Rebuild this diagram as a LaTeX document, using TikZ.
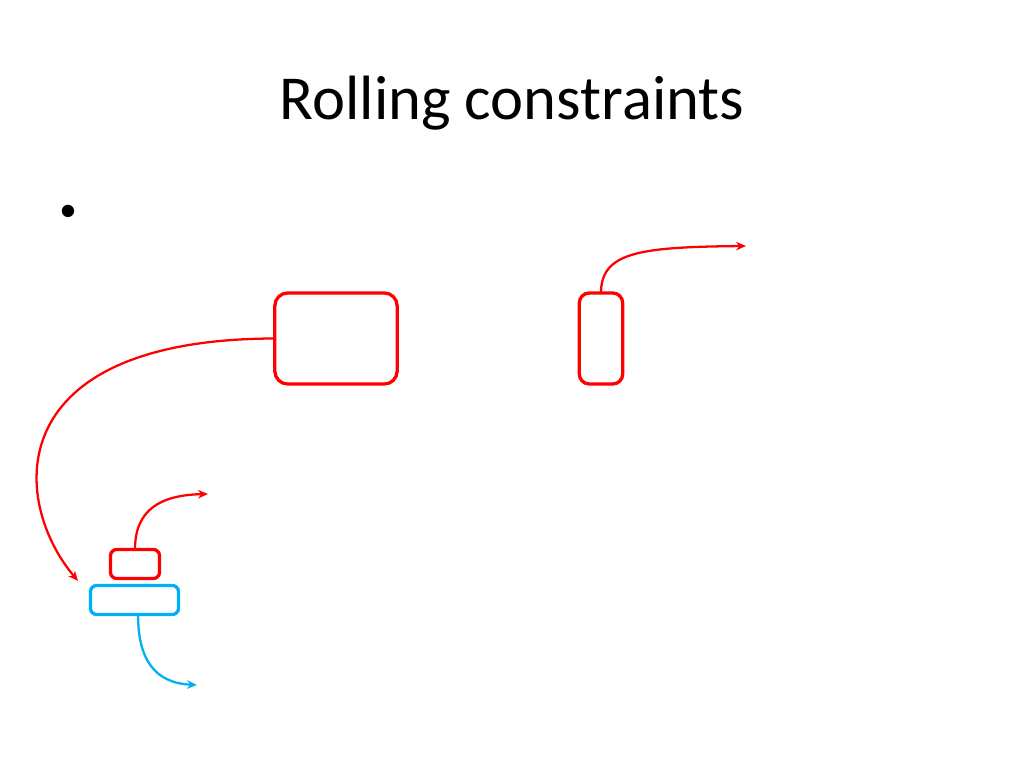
\documentclass[tikz,border=0pt]{standalone}
\usepackage{fontspec}
\setmainfont{Carlito}
\newfontfamily\bulletfont{Liberation Sans}
\usetikzlibrary{arrows.meta}
\definecolor{pred}{RGB}{255,0,0}
\definecolor{pblue}{RGB}{0,176,240}
\tikzset{
  box/.style={draw, rectangle, line width=2.3pt, inner sep=0pt, outer sep=0pt, fill=none},
  conn/.style={line width=1.6pt, -{Stealth[length=7pt,width=6pt]}},
}
\begin{document}
\begin{tikzpicture}[x=0.703125pt, y=-0.703125pt]
\useasboundingbox (0,0) rectangle (1024,768);
\fill[white] (0,0) rectangle (1024,768);
\node[anchor=base, font=\fontsize{44}{50}\selectfont] (title) at (512,120) {Rolling constraints};
\node[anchor=base, font=\bulletfont\fontsize{32}{36}\selectfont] (bullet) at (68,227) {•};
\node[box, pred, rounded corners=9pt, minimum width=86pt, minimum height=64pt] (big) at (336,338.5) {};
\node[box, pred, rounded corners=7pt, minimum width=30.5pt, minimum height=64pt] (tall) at (601,338.5) {};
\node[box, pred, rounded corners=4.5pt, minimum width=34.5pt, minimum height=20.5pt] (smallred) at (135,564) {};
\node[box, pblue, rounded corners=4.5pt, minimum width=62pt, minimum height=20.5pt] (blue) at (134.5,600) {};
\coordinate (e1) at (78,581);
\coordinate (e2) at (746,246);
\coordinate (e3) at (208,494);
\coordinate (e4) at (197,685);
\draw[conn, pred] (big.west) .. controls (0,339) and (10,500) .. (e1);
\draw[conn, pred] (tall.north) .. controls (601,252) and (640,247) .. (e2);
\draw[conn, pred] (smallred.north) .. controls (135,510) and (160,495) .. (e3);
\draw[conn, pblue] ([xshift=2.5]blue.south) .. controls (138,660) and (155,683) .. (e4);
\end{tikzpicture}
\end{document}
